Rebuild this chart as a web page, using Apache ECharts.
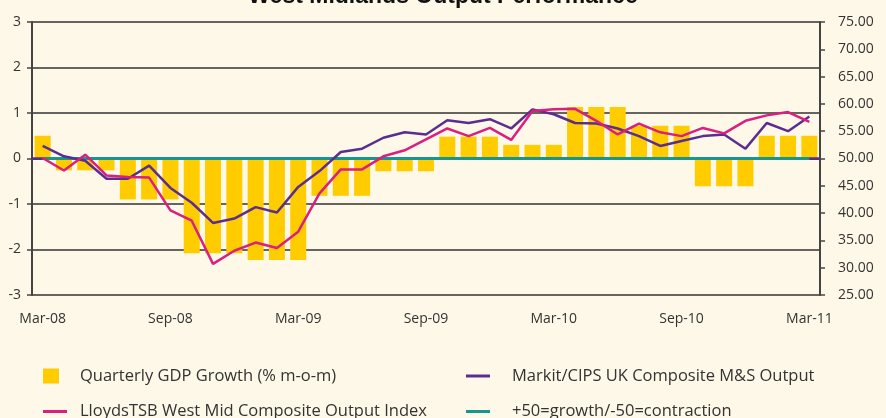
<!DOCTYPE html>
<html>
<head>
<meta charset="utf-8">
<script src="https://cdn.jsdelivr.net/npm/echarts@6/dist/echarts.min.js"></script>
<style>
html,body{margin:0;padding:0;background:#FDF8E7;}
#chart{width:886px;height:418px;}
</style>
</head>
<body>
<div id="chart"></div>
<script>
const categories = ['Mar-08','Apr-08','May-08','Jun-08','Jul-08','Aug-08','Sep-08','Oct-08','Nov-08','Dec-08',
  'Jan-09','Feb-09','Mar-09','Apr-09','May-09','Jun-09','Jul-09','Aug-09','Sep-09','Oct-09','Nov-09','Dec-09',
  'Jan-10','Feb-10','Mar-10','Apr-10','May-10','Jun-10','Jul-10','Aug-10','Sep-10','Oct-10','Nov-10','Dec-10',
  'Jan-11','Feb-11','Mar-11'];
const gdpGrowth = [0.5,-0.26,-0.26,-0.26,-0.9,-0.9,-0.9,-2.08,-2.08,-2.08,
  -2.23,-2.23,-2.23,-0.82,-0.82,-0.82,-0.28,-0.28,-0.28,0.48,0.48,0.48,
  0.30,0.30,0.30,1.13,1.13,1.13,0.72,0.72,0.72,-0.61,-0.61,-0.61,
  0.50,0.50,0.50];
const markitOutput = [52.3,50.4,49.6,46.3,46.3,48.7,44.6,41.9,38.2,39.0,
  41.1,40.1,44.8,47.7,51.2,51.8,53.8,54.8,54.4,57.0,56.5,57.2,
  55.5,59.0,58.1,56.5,56.4,55.5,54.1,52.3,53.2,54.1,54.4,51.8,
  56.5,55.0,57.7];
const lloydsOutput = [50.1,47.8,50.7,46.9,46.6,46.5,40.5,38.6,30.7,33.1,
  34.6,33.6,36.6,43.6,48.0,48.0,50.4,51.5,53.5,55.5,54.1,55.6,
  53.4,58.7,59.0,59.1,56.9,54.4,56.4,54.8,54.1,55.6,54.6,56.9,
  57.9,58.5,56.7];
const growthLine = [50,50,50,50,50,50,50,50,50,50,50,50,50,50,50,50,50,50,50,50,
  50,50,50,50,50,50,50,50,50,50,50,50,50,50,50,50,50];
const edgeLine = [50,50];
const leftTicks = {min:-3,max:3,interval:1};
const rightTicks = {min:25,max:75,interval:5};

const names = {
  gdp:'Quarterly GDP Growth (% m-o-m)',
  markit:'Markit/CIPS UK Composite M&S Output',
  lloyds:'LloydsTSB West Mid Composite Output Index',
  zero:'+50=growth/-50=contraction'
};
const cols = {gdp:'#FFCC00', markit:'#5B2D90', lloyds:'#D91F80', zero:'#17968F'};
const txt = '#333333';
const font = 'Open Sans';

const chart = echarts.init(document.getElementById('chart'), null, {renderer:'canvas'});
chart.setOption({
  backgroundColor:'#FDF8E7',
  animation:false,
  textStyle:{fontFamily:font},
  title:{
    text:'West Midlands Output Performance',
    left:'center', top:-20,
    textStyle:{fontFamily:'Liberation Sans', fontWeight:'bold', fontSize:23, color:'#111'}
  },
  grid:{left:32, right:66, top:22, bottom:123},
  legend:[{
    left:43, top:367.5, height:80, padding:0, orient:'vertical', itemWidth:24, itemHeight:16, itemGap:18.5,
    textStyle:{fontFamily:font, fontSize:16.5, color:txt, lineHeight:16, padding:[0,0,0,8]},
    data:[
      {name:names.gdp, icon:'path://M0,0H16V15H0ZM23.9,0H24V0.1H23.9Z'},
      {name:names.lloyds, icon:'path://M0,0H24V3H0Z'}
    ]
  },{
    left:466, top:367.5, height:80, padding:0, orient:'vertical', itemWidth:24, itemHeight:16, itemGap:18.5,
    textStyle:{fontFamily:font, fontSize:16.5, color:txt, lineHeight:16, padding:[0,0,0,17]},
    data:[
      {name:names.markit, icon:'path://M0,0H24V3H0Z'},
      {name:names.zero, icon:'path://M0,0H24V3H0Z'}
    ]
  }],
  xAxis:[{
    type:'category', data:categories, boundaryGap:true,
    axisLine:{show:true, lineStyle:{color:'#333', width:1.5}},
    axisTick:{show:false},
    axisLabel:{interval:5, margin:17, fontSize:14, color:txt, fontFamily:font}
  },{
    type:'category', data:['a','b'], boundaryGap:false, show:false
  }],
  yAxis:[{
    type:'value', position:'left', min:leftTicks.min, max:leftTicks.max, interval:leftTicks.interval,
    axisLine:{show:true, lineStyle:{color:'#444', width:2}},
    axisTick:{show:true, inside:false, length:5, lineStyle:{color:'#444', width:1.5}},
    axisLabel:{margin:11, fontSize:14, color:txt, fontFamily:font},
    splitLine:{show:true, lineStyle:{color:'#333', width:1.5}}
  },{
    type:'value', position:'right', min:rightTicks.min, max:rightTicks.max, interval:rightTicks.interval,
    axisLine:{show:true, lineStyle:{color:'#444', width:2}},
    axisTick:{show:true, inside:false, length:5, lineStyle:{color:'#444', width:1.5}},
    axisLabel:{margin:18, fontSize:14, color:txt, fontFamily:font, formatter:v=>v.toFixed(2)},
    splitLine:{show:false}
  }],
  series:[{
    name:names.gdp, type:'bar', data:gdpGrowth, xAxisIndex:0, yAxisIndex:0,
    barWidth:16, itemStyle:{color:cols.gdp}, z:2
  },{
    name:'edge', type:'line', data:edgeLine, xAxisIndex:1, yAxisIndex:1,
    symbol:'none', lineStyle:{color:cols.markit, width:2.5}, z:3, silent:true
  },{
    name:names.zero, type:'line', data:growthLine, xAxisIndex:0, yAxisIndex:1,
    symbol:'none', lineStyle:{color:cols.zero, width:3}, itemStyle:{color:cols.zero}, z:4
  },{
    name:names.markit, type:'line', data:markitOutput, xAxisIndex:0, yAxisIndex:1,
    symbol:'none', lineStyle:{color:cols.markit, width:2.5}, itemStyle:{color:cols.markit}, z:5
  },{
    name:names.lloyds, type:'line', data:lloydsOutput, xAxisIndex:0, yAxisIndex:1,
    symbol:'none', lineStyle:{color:cols.lloyds, width:2.5}, itemStyle:{color:cols.lloyds}, z:6
  }]
});
</script>
</body>
</html>
